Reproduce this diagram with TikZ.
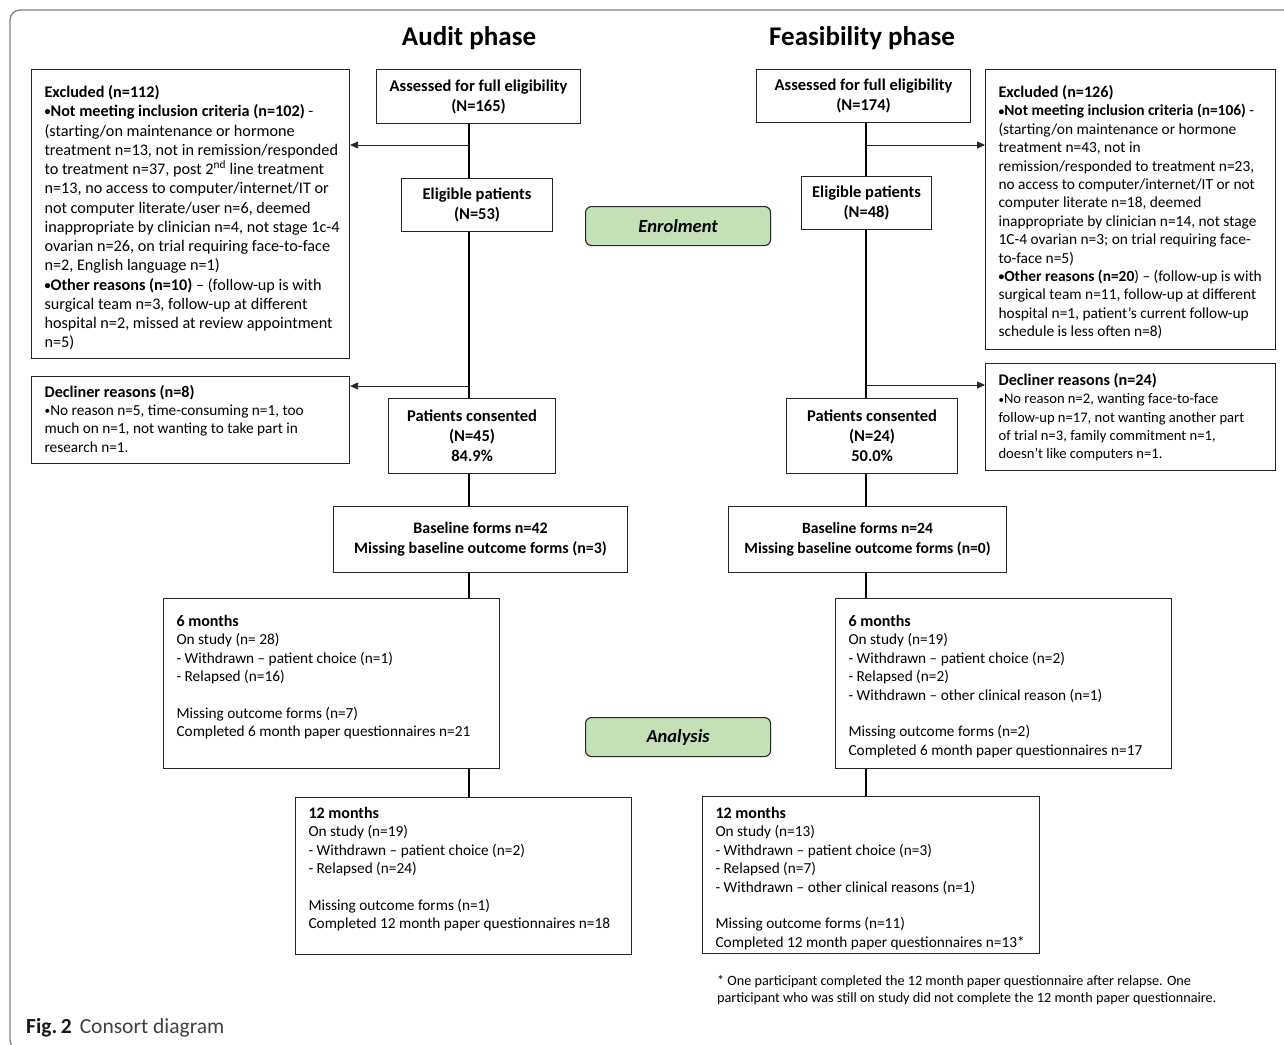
\documentclass[tikz,border=0pt]{standalone}
\usepackage{fontspec}
\setmainfont{Carlito}
\usetikzlibrary{arrows.meta,calc}
\definecolor{grn}{HTML}{C5E0B4}
\definecolor{frame}{HTML}{7F7F7F}
\newcommand{\tb}[4]{\parbox[c][#2][t]{#1}{\raggedright\leftskip=13pt\relax\rule{0pt}{#3}#4}}
\newcommand{\bul}{\raisebox{0.12ex}{\scalebox{0.75}{•}}}
\tikzset{
  box/.style={draw=black!85, line width=1.1pt, inner sep=0pt, anchor=north west},
  cbox/.style={box, align=center, font=\fontsize{16.5}{20}\selectfont\bfseries},
  conn/.style={line width=1.8pt, black},
  arr/.style={line width=0.8pt, black!85, -{Triangle[length=8pt,width=7pt]}},
  phasebox/.style={draw=black!85, line width=1.1pt, fill=grn, rounded corners=6pt, anchor=north west, minimum width=185pt, minimum height=39pt, inner sep=0pt, font=\fontsize{18.5}{20}\selectfont\bfseries\itshape},
  ttl/.style={font=\fontsize{27}{30}\selectfont\bfseries},
}
\begin{document}
\begin{tikzpicture}[x=1pt,y=-1pt]
\useasboundingbox (0,0) rectangle (1284,1044);
\fill[white] (0,0) rectangle (1284,1044);
\draw[frame, line width=1.2pt, rounded corners=10pt] (1300,10) -- (10,10) -- (10,1050) -- (1300,1050);

\coordinate (lineL) at (469,0);
\coordinate (lineR) at (866,0);

% titles
\node[ttl] (tA) at (469,38) {Audit phase};
\node[ttl] (tF) at (862,38) {Feasibility phase};

% phase labels
\node[phasebox] (enrol) at (585,206) {Enrolment};
\node[phasebox] (anal) at (585,717) {Analysis};

% ---------------- Audit column
\node[cbox, minimum width=204pt, minimum height=54pt] (assL) at (376,69) {Assessed for full eligibility\\(N=165)};
\node[cbox, minimum width=151pt, minimum height=53pt] (eligL) at (401,178) {Eligible patients\\(N=53)};
\node[cbox, minimum width=167pt, minimum height=75pt] (consL) at (388,398) {Patients consented\\(N=45)\\84.9\%};
\node[cbox, minimum width=294pt, minimum height=66pt, font=\fontsize{16}{20}\selectfont\bfseries] (baseL) at (333,506) {Baseline forms n=42\\Missing baseline outcome forms (n=3)};

\node[box, font=\fontsize{16.2}{19.25}\selectfont] (exclL) at (31,69) {\tb{318pt}{289pt}{28pt}{%
\textbf{Excluded (n=112)}\\
\textbf{\bul Not meeting inclusion criteria (n=102)} -\\
(starting/on maintenance or hormone\\
treatment n=13, not in remission/responded\\
to treatment n=37, post 2\textsuperscript{nd} line treatment\\
n=13, no access to computer/internet/IT or\\
not computer literate/user n=6, deemed\\
inappropriate by clinician n=4, not stage 1c-4\\
ovarian n=26, on trial requiring face-to-face\\
n=2, English language n=1)\\
\textbf{\bul Other reasons (n=10)} – (follow-up is with\\
surgical team n=3, follow-up at different\\
hospital n=2, missed at review appointment\\
n=5)}};

\node[box, font=\fontsize{15.3}{18.2}\selectfont] (declL) at (31,376) {\tb{318pt}{87pt}{21pt}{%
{\fontsize{16.2}{18.2}\selectfont\textbf{Decliner reasons (n=8)}}\\
\bul No reason n=5, time-consuming n=1, too\\
much on n=1, not wanting to take part in\\
research n=1.}};

\node[box, font=\fontsize{15.3}{18.4}\selectfont] (sixL) at (163,598) {\tb{336pt}{170pt}{28pt}{%
{\fontsize{16}{18.4}\selectfont\textbf{6 months}}\\
On study (n= 28)\\
- Withdrawn – patient choice (n=1)\\
- Relapsed (n=16)\\[18.4pt]
Missing outcome forms (n=7)\\
Completed 6 month paper questionnaires n=21}};

\node[box, font=\fontsize{15.3}{18.4}\selectfont] (twL) at (295,797) {\tb{336pt}{157pt}{21pt}{%
{\fontsize{16}{18.4}\selectfont\textbf{12 months}}\\
On study (n=19)\\
- Withdrawn – patient choice (n=2)\\
- Relapsed (n=24)\\[18.4pt]
Missing outcome forms (n=1)\\
Completed 12 month paper questionnaires n=18}};

% ---------------- Feasibility column
\node[cbox, minimum width=214pt, minimum height=53pt] (assR) at (756,69) {Assessed for full eligibility\\(N=174)};
\node[cbox, minimum width=130pt, minimum height=53pt] (eligR) at (801,176) {Eligible patients\\(N=48)};
\node[cbox, minimum width=171pt, minimum height=75pt] (consR) at (786,398) {Patients consented\\(N=24)\\50.0\%};
\node[cbox, minimum width=278pt, minimum height=66pt, font=\fontsize{15.6}{20}\selectfont\bfseries] (baseR) at (728,506) {Baseline forms n=24\\Missing baseline outcome forms (n=0)};

\node[box, font=\fontsize{15.4}{18.4}\selectfont] (exclR) at (985,69) {\tb{290pt}{280pt}{28pt}{%
{\fontsize{16.2}{18.4}\selectfont\textbf{Excluded (n=126)}}\\
\textbf{\bul Not meeting inclusion criteria (n=106)} -\\
(starting/on maintenance or hormone\\
treatment n=43, not in\\
remission/responded to treatment n=23,\\
no access to computer/internet/IT or not\\
computer literate n=18, deemed\\
inappropriate by clinician n=14, not stage\\
1C-4 ovarian n=3; on trial requiring face-\\
to-face n=5)\\
\textbf{\bul Other reasons (n=20}) – (follow-up is with\\
surgical team n=11, follow-up at different\\
hospital n=1, patient’s current follow-up\\
schedule is less often n=8)}};

\node[box, font=\fontsize{14.6}{18.3}\selectfont] (declR) at (985,363) {\tb{290pt}{107pt}{22pt}{%
{\fontsize{16.2}{18.3}\selectfont\textbf{Decliner reasons (n=24)}}\\
\bul No reason n=2, wanting face-to-face\\
follow-up n=17, not wanting another part\\
of trial n=3, family commitment n=1,\\
doesn’t like computers n=1.}};

\node[box, font=\fontsize{15.3}{18.4}\selectfont] (sixR) at (835,598) {\tb{336pt}{170pt}{28pt}{%
{\fontsize{16}{18.4}\selectfont\textbf{6 months}}\\
On study (n=19)\\
- Withdrawn – patient choice (n=2)\\
- Relapsed (n=2)\\
- Withdrawn – other clinical reason (n=1)\\[18.4pt]
Missing outcome forms (n=2)\\
Completed 6 month paper questionnaires n=17}};

\node[box, font=\fontsize{15.3}{18.4}\selectfont] (twR) at (702,796) {\tb{337pt}{157pt}{22pt}{%
{\fontsize{16}{18.4}\selectfont\textbf{12 months}}\\
On study (n=13)\\
- Withdrawn – patient choice (n=3)\\
- Relapsed (n=7)\\
- Withdrawn – other clinical reasons (n=1)\\[18.4pt]
Missing outcome forms (n=11)\\
Completed 12 month paper questionnaires n=13*}};

% footnote and caption
\node[anchor=north west, inner sep=0pt, align=left, font=\fontsize{14.2}{17}\selectfont] (fn) at (717,975) {* One participant completed the 12 month paper questionnaire after relapse. One\\participant who was still on study did not complete the 12 month paper questionnaire.};
\node[anchor=base west, inner sep=0pt, font=\fontsize{21.5}{24}\selectfont, text=black!75] (cap) at (26,1033) {\textbf{\color{black!90}Fig.\,2}\hspace{8pt}Consort diagram};

% ---------------- connectors
\draw[conn] (assL.south -| lineL) -- (eligL.north -| lineL);
\draw[conn] (eligL.south -| lineL) -- (consL.north -| lineL);
\draw[conn] (consL.south -| lineL) -- (baseL.north -| lineL);
\draw[conn] (baseL.south -| lineL) -- (sixL.north -| lineL);
\draw[conn] (sixL.south -| lineL) -- (twL.north -| lineL);

\draw[conn] (assR.south -| lineR) -- (eligR.north -| lineR);
\draw[conn] (eligR.south -| lineR) -- (consR.north -| lineR);
\draw[conn] (consR.south -| lineR) -- (baseR.north -| lineR);
\draw[conn] (baseR.south -| lineR) -- (sixR.north -| lineR);
\draw[conn] (sixR.south -| lineR) -- (twR.north -| lineR);

\coordinate (jL1) at (469,145);
\coordinate (jL2) at (469,386);
\coordinate (jR1) at (866,145);
\coordinate (jR2) at (866,385);
\draw[arr] (jL1) -- (jL1 -| exclL.east);
\draw[arr] (jL2) -- (jL2 -| declL.east);
\draw[arr] (jR1) -- (jR1 -| exclR.west);
\draw[arr] (jR2) -- (jR2 -| declR.west);
\end{tikzpicture}
\end{document}
